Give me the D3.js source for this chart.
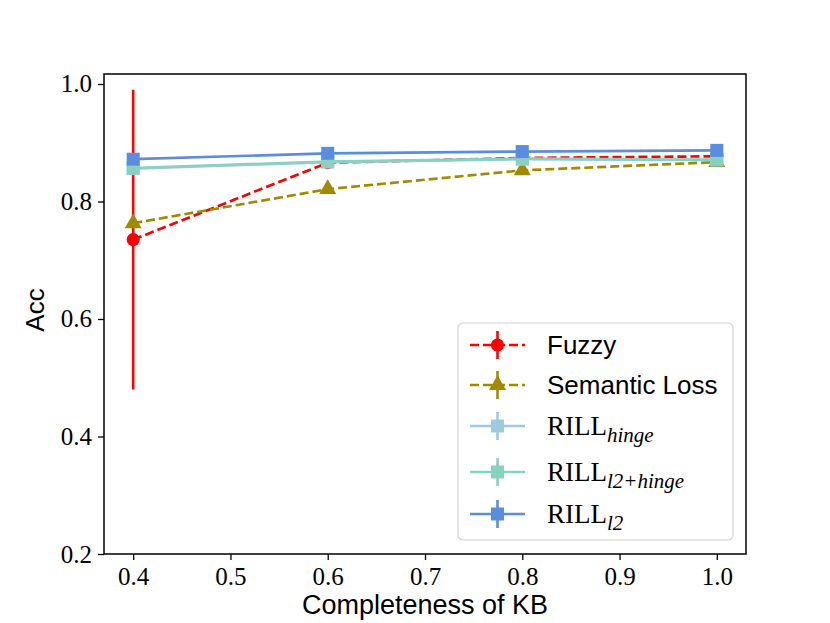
<!DOCTYPE html>
<html>
<head>
<meta charset="utf-8">
<script src="https://cdn.jsdelivr.net/npm/d3@7"></script>
<style>
  body { margin: 0; background: #fff; }
  .tick text { font-family: "Liberation Serif", serif; font-size: 25px; fill: #000; }
</style>
</head>
<body>
<svg id="chart"></svg>
<script>
// completeness of KB
var completeness = [0.4, 0.6, 0.8, 1.0];

// accuracy per method
var fuzzyAcc = [0.735, 0.866, 0.874, 0.877];
var fuzzyErr = [0.255, 0.004, 0.003, 0.003];
var semanticAcc = [0.763, 0.821, 0.853, 0.867];
var semanticErr = [0.004, 0.003, 0.003, 0.002];
var hingeAcc = [0.856, 0.867, 0.872, 0.871];
var hingeErr = [0.004, 0.003, 0.002, 0.002];
var l2HingeAcc = [0.857, 0.868, 0.873, 0.871];
var l2HingeErr = [0.004, 0.003, 0.002, 0.002];
var l2Acc = [0.872, 0.882, 0.885, 0.887];
var l2Err = [0.004, 0.003, 0.002, 0.002];

var xTicks = [0.4, 0.5, 0.6, 0.7, 0.8, 0.9, 1.0];
var yTicks = [0.2, 0.4, 0.6, 0.8, 1.0];

var series = [
  { name: "Fuzzy", acc: fuzzyAcc, err: fuzzyErr, color: "#ff0000", dash: true, marker: "circle" },
  { name: "Semantic Loss", acc: semanticAcc, err: semanticErr, color: "#a08a00", dash: true, marker: "triangle" },
  { name: "RILL", sub: "hinge", acc: hingeAcc, err: hingeErr, color: "#9ecae1", dash: false, marker: "square" },
  { name: "RILL", sub: "l2+hinge", acc: l2HingeAcc, err: l2HingeErr, color: "#88d1bf", dash: false, marker: "square" },
  { name: "RILL", sub: "l2", acc: l2Acc, err: l2Err, color: "#5a8de0", dash: false, marker: "square" }
];

var svgWidth = 830, svgHeight = 623;
var margin = { top: 74, right: 84, bottom: 69, left: 104 };
var width = svgWidth - margin.left - margin.right;
var height = svgHeight - margin.top - margin.bottom;

var svg = d3.select("#chart")
  .attr("width", svgWidth)
  .attr("height", svgHeight);

var g = svg.append("g")
  .attr("transform", "translate(" + margin.left + "," + margin.top + ")");

var x = d3.scaleLinear().domain([0.37, 1.03]).range([0, width]);
var y = d3.scaleLinear().domain([0.2, 1.017]).range([height, 0]);

function markerPath(type) {
  if (type === "circle") return d3.symbol().type(d3.symbolCircle).size(135)();
  if (type === "triangle") return d3.symbol().type(d3.symbolTriangle).size(125)();
  return d3.symbol().type(d3.symbolSquare).size(169)();
}

var line = d3.line()
  .x(function(d) { return x(d[0]); })
  .y(function(d) { return y(d[1]); });

series.forEach(function(s) {
  var pts = completeness.map(function(c, i) { return [c, s.acc[i], s.err[i]]; });
  var sg = g.append("g");

  sg.selectAll(".err")
    .data(pts)
    .enter().append("line")
    .attr("x1", function(d) { return x(d[0]); })
    .attr("x2", function(d) { return x(d[0]); })
    .attr("y1", function(d) { return y(d[1] - d[2]); })
    .attr("y2", function(d) { return y(d[1] + d[2]); })
    .attr("stroke", s.color)
    .attr("stroke-width", 2.6);

  sg.append("path")
    .datum(pts)
    .attr("fill", "none")
    .attr("stroke", s.color)
    .attr("stroke-width", 2.7)
    .attr("stroke-dasharray", s.dash ? "9,4" : null)
    .attr("d", line);

  sg.selectAll(".mk")
    .data(pts)
    .enter().append("path")
    .attr("transform", function(d) { return "translate(" + x(d[0]) + "," + y(d[1]) + ")"; })
    .attr("d", markerPath(s.marker))
    .attr("fill", s.color);
});

// axes
g.append("g")
  .attr("transform", "translate(0," + height + ")")
  .call(d3.axisBottom(x).tickValues(xTicks).tickFormat(d3.format(".1f")).tickSize(6).tickPadding(7))
  .call(function(a) { a.select(".domain").remove(); });

g.append("g")
  .call(d3.axisLeft(y).tickValues(yTicks).tickFormat(d3.format(".1f")).tickSize(6).tickPadding(6))
  .call(function(a) { a.select(".domain").remove(); });

g.selectAll(".tick line").attr("stroke", "#000").attr("stroke-width", 1.3);

g.append("rect")
  .attr("width", width)
  .attr("height", height)
  .attr("fill", "none")
  .attr("stroke", "#000")
  .attr("stroke-width", 1.5);

// axis labels
svg.append("text")
  .attr("x", margin.left + width / 2)
  .attr("y", 614)
  .attr("text-anchor", "middle")
  .style("font-family", "Liberation Sans, Arial, sans-serif")
  .style("font-size", "27px")
  .text("Completeness of KB");

svg.append("text")
  .attr("transform", "translate(44," + (margin.top + height / 2 - 4) + ") rotate(-90)")
  .attr("text-anchor", "middle")
  .style("font-family", "Liberation Sans, Arial, sans-serif")
  .style("font-size", "26px")
  .text("Acc");

// legend
var legendRows = [345, 385, 426, 472, 514];
var legend = svg.append("g");

legend.append("rect")
  .attr("x", 458).attr("y", 323)
  .attr("width", 275).attr("height", 217)
  .attr("rx", 5)
  .attr("fill", "#fff").attr("fill-opacity", 0.8)
  .attr("stroke", "#d4d4d4").attr("stroke-width", 1.2);

series.forEach(function(s, i) {
  var ly = legendRows[i];
  var lg = legend.append("g");
  lg.append("line")
    .attr("x1", 470).attr("x2", 525).attr("y1", ly).attr("y2", ly)
    .attr("stroke", s.color).attr("stroke-width", 2.7)
    .attr("stroke-dasharray", s.dash ? "9,4" : null);
  lg.append("line")
    .attr("x1", 497.5).attr("x2", 497.5).attr("y1", ly - 14).attr("y2", ly + 14)
    .attr("stroke", s.color).attr("stroke-width", 2.6);
  lg.append("path")
    .attr("transform", "translate(497.5," + ly + ")")
    .attr("d", markerPath(s.marker))
    .attr("fill", s.color);

  var t = lg.append("text")
    .attr("x", 547).attr("y", ly + 9);
  if (s.sub) {
    t.style("font-family", "Liberation Serif, serif").style("font-size", "27px");
    t.append("tspan").text(s.name);
    t.append("tspan")
      .attr("dy", 7)
      .style("font-style", "italic")
      .style("font-size", "21px")
      .text(s.sub);
  } else {
    t.style("font-family", "Liberation Sans, Arial, sans-serif").style("font-size", "26px");
    t.text(s.name);
  }
});
</script>
</body>
</html>
